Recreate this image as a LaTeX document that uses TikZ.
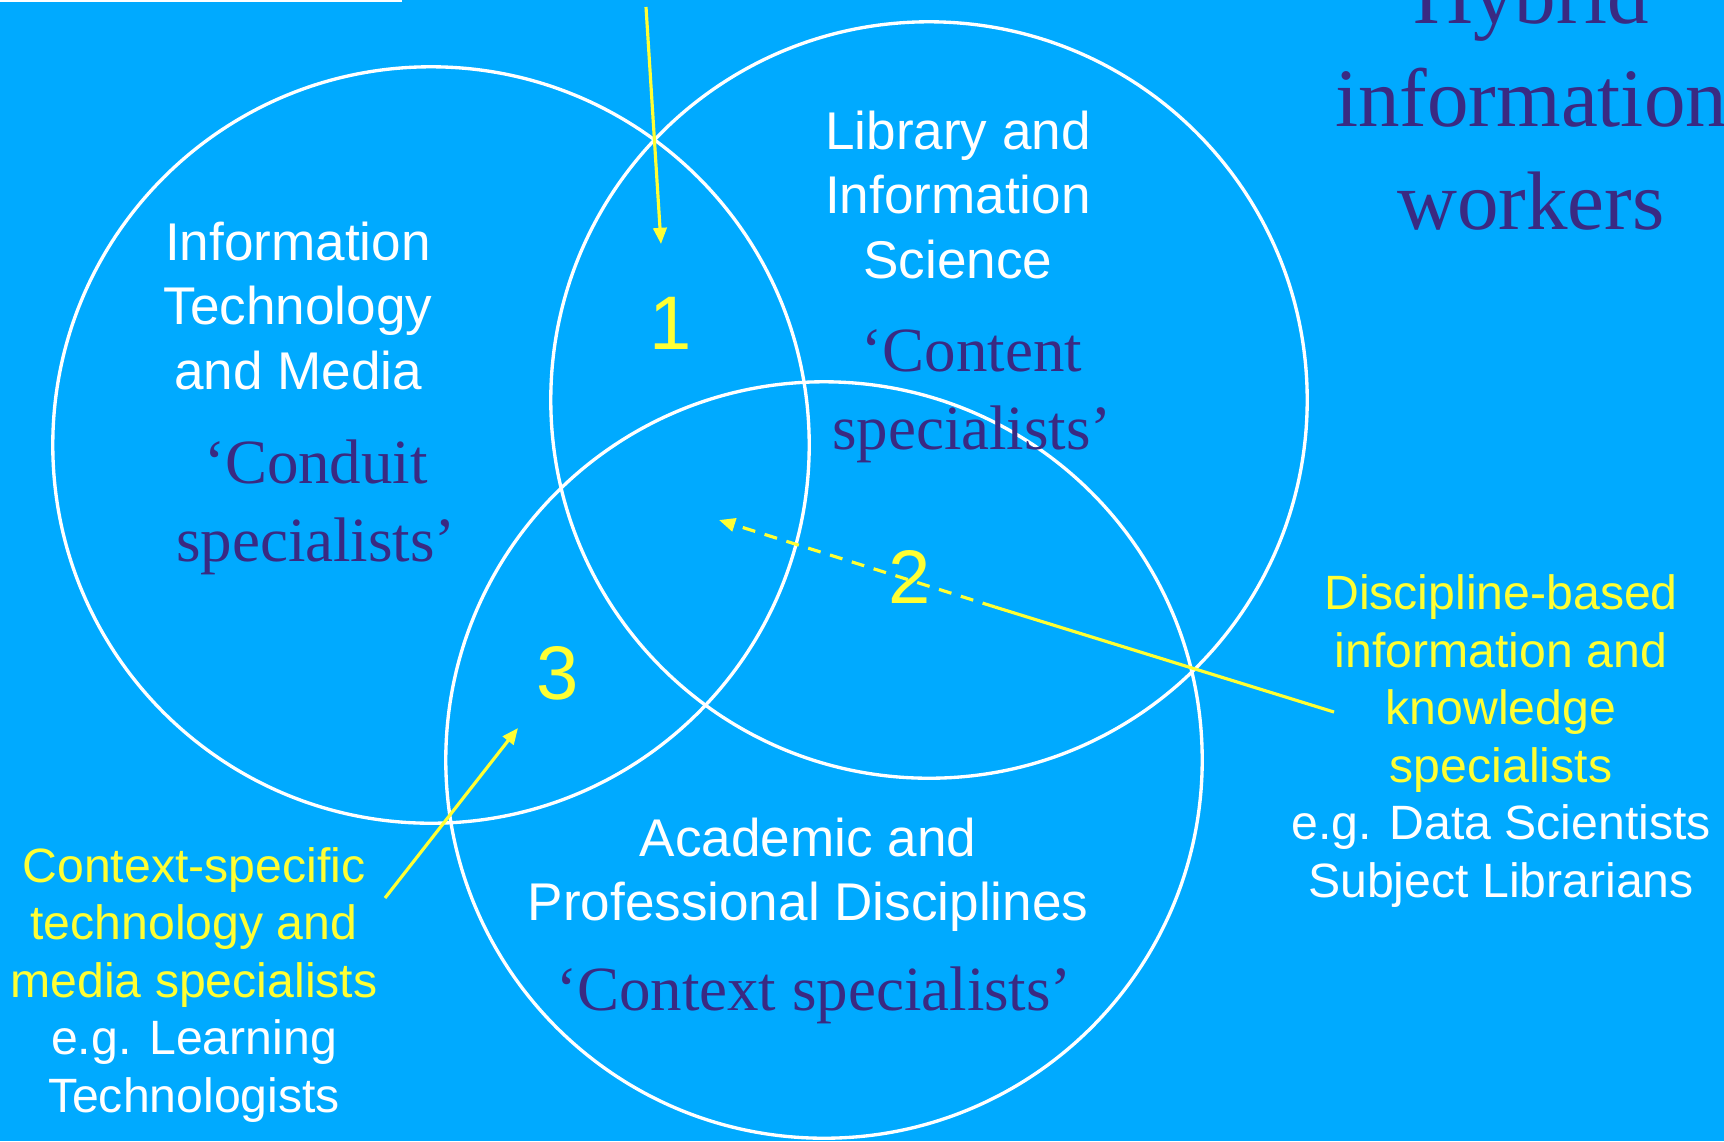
\documentclass[tikz,border=0pt]{standalone}
\usepackage{fontspec}
\setmainfont{Liberation Serif}
\newfontfamily\arialfont{Liberation Sans}
\usetikzlibrary{arrows.meta}
\definecolor{slidebg}{RGB}{0,170,255}
\definecolor{ink}{RGB}{58,42,130}
\definecolor{hilite}{RGB}{255,255,51}

\begin{document}
\begin{tikzpicture}[x=0.01cm,y=-0.01cm,
  ring/.style={circle, draw=white, line width=0.95pt, minimum size=7.56cm, inner sep=0pt},
  pointer/.style={draw=hilite, line width=0.9pt},
  tip/.style={-{Triangle[length=4.6pt,width=3.8pt]}},
  field/.style={text=white, font=\arialfont\fontsize{15.1}{18.2}\selectfont, align=center, inner sep=0pt},
  role/.style={text=ink, font=\fontsize{17.9}{22.2}\selectfont, align=center, inner sep=0pt},
  note/.style={text=hilite, font=\arialfont\fontsize{13.7}{16.35}\selectfont, align=center, inner sep=0pt},
  num/.style={text=hilite, font=\arialfont\fontsize{21.6}{26}\selectfont, inner sep=0pt},
]
% slide background
\fill[slidebg] (0,0) rectangle (1724,1141);
\useasboundingbox (0,0) rectangle (1724,1141);
\fill[white] (0,0) rectangle (402,1.5);

% the three overlapping domains
\node[ring] (itc)  at (431,445) {};
\node[ring] (lisc) at (929,400) {};
\node[ring] (apc)  at (824,760) {};

% domain labels
\node[field] (itlab) at (298,306) {Information\\Technology\\and Media};
\node[role]  (itrole) at (316,507) {`Conduit\\specialists'};
\node[field] (lislab) at (958,195) {Library and\\Information\\Science};
\node[role]  (lisrole) at (972,396) {`Content\\specialists'};
\node[field] (aplab) at (808,875) {Academic and\\Professional Disciplines};
\node[role]  (aprole) at (814,995) {`Context specialists'};

% title
\node[role, font=\fontsize{23.6}{29.3}\selectfont, anchor=north] (title) at (1531,-35)
  {Hybrid\\information\\workers};

% overlap numbers
\node[num] (n1) at (671,323) {1};
\node[num] (n2) at (910,577) {2};
\node[num] (n3) at (558,673) {3};

% hybrid role notes
\node[note] (disc) at (1501,741)
  {Discipline-based\\information and\\knowledge\\specialists\\\color{white}e.g. Data Scientists\\\color{white}Subject Librarians};
\node[note] (ctx) at (194,985)
  {Context-specific\\technology and\\media specialists\\\color{white}e.g. Learning\\\color{white}Technologists};

% pointers
\coordinate (a1s) at (646,7);
\coordinate (a1e) at (661,244);
\draw[pointer,tip] (a1s) -- (a1e);

\coordinate (a2s) at (1334,712);
\coordinate (a2m) at (995,607);
\coordinate (a2e) at (719,520);
\draw[pointer] (a2s) -- (a2m);
\draw[pointer,tip,dash pattern=on 3.7pt off 2.8pt] (a2m) -- (a2e);

\coordinate (a3s) at (385,898);
\coordinate (a3e) at (518,728);
\draw[pointer,tip] (a3s) -- (a3e);
\end{tikzpicture}
\end{document}
